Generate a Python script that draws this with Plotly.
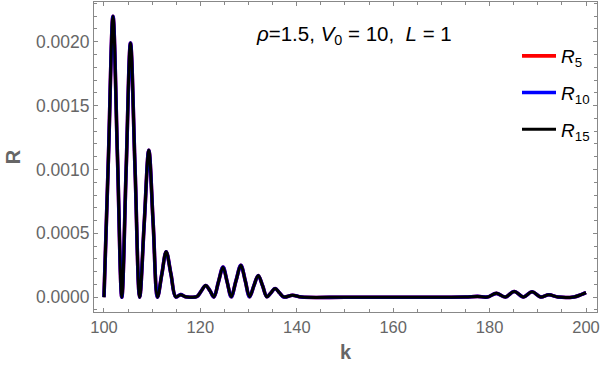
import plotly.graph_objects as go

# k values of key points (peaks, minima, half-heights)
k = [100.0, 100.93, 101.87, 102.8, 103.7, 104.6, 105.5, 106.45, 107.4, 108.35,
     109.3, 110.2, 111.1, 112.0, 112.9, 113.9, 114.9, 115.9, 116.9, 118.0,
     119.3, 120.2, 121.1, 122.0, 122.8, 123.75, 124.7, 125.55, 126.4, 127.4,
     128.4, 129.3, 130.2, 131.1, 132.0, 132.9, 133.8, 134.65, 135.5, 136.4,
     137.3, 139.1, 141.0, 150.0, 160.0, 170.0, 175.0, 177.5, 179.5, 181.4,
     183.3, 185.1, 187.0, 188.8, 190.6, 192.3, 194.2, 197.5, 199.0, 200.0]

R5 = [0.0, 0.00110, 0.00220, 0.00110, 0.0, 0.00100, 0.00199, 0.00100, 0.0, 0.00058,
      0.00115, 0.00058, 0.0, 0.00018, 0.000355, 0.00018, 0.000002, 0.00002, 0.000003, 0.0,
      0.000005, 0.00005, 0.000092, 0.00005, 0.000002, 0.00012, 0.000235, 0.00012, 0.000003, 0.00013,
      0.00025, 0.00013, 0.000003, 0.00009, 0.00017, 0.00009, 0.000003, 0.000035, 0.000068, 0.000035,
      0.000002, 0.000015, 0.000001, 0.0, 0.0, 0.0, 0.000001, 0.000006, 0.000001, 0.00003,
      0.000002, 0.000045, 0.000002, 0.000043, 0.000002, 0.000019, 0.000001, 0.000002, 0.00002, 0.000035]
R10 = list(R5)
R15 = list(R5)

series = [("<i>R</i><sub>5</sub>", R5, "#ff0000", 3.6),
          ("<i>R</i><sub>10</sub>", R10, "#0000ff", 3.6),
          ("<i>R</i><sub>15</sub>", R15, "#000000", 3.0)]

fig = go.Figure()
for i, (name, vals, color, w) in enumerate(series):
    fig.add_trace(go.Scatter(x=k, y=vals, mode="lines", name=name,
                             line=dict(color=color, width=w, shape="spline", smoothing=1.0),
                             legendgroup=str(i)))

gray = "#666666"
FONT = "Liberation Sans, Arial"
axis_common = dict(showline=True, linecolor="#888888", linewidth=1, mirror="allticks",
                   ticks="inside", ticklen=4, tickcolor="#888888", showgrid=False,
                   zeroline=False, ticklabeloverflow="allow")

fig.update_xaxes(range=[97.93, 202.28], tick0=100, dtick=20,
                 tickfont=dict(family=FONT, size=16.5, color=gray),
                 minor=dict(dtick=5, ticks="inside", ticklen=3, tickcolor="#888888"),
                 title=dict(text="<b>k</b>", font=dict(family=FONT, size=20, color=gray), standoff=10),
                 **axis_common)
fig.update_yaxes(range=[-0.000116, 0.002311], tick0=0, dtick=0.0005, tickformat=".4f",
                 tickfont=dict(family=FONT, size=17.5, color=gray),
                 minor=dict(dtick=0.0001, ticks="inside", ticklen=3, tickcolor="#888888"),
                 title=dict(text="<b>R</b>", font=dict(family=FONT, size=20, color=gray), standoff=9),
                 **axis_common)

fig.add_annotation(text="<i>ρ</i>=1.5, <i>V</i><sub>0</sub> = 10,  <i>L</i> = 1",
                   xref="paper", yref="paper", x=(254 - 94) / 503, y=1 - (35 - 2) / 310,
                   xanchor="left", yanchor="middle", showarrow=False,
                   font=dict(family=FONT, size=20.5, color="black"))

fig.update_layout(
    width=600, height=373,
    margin=dict(l=94, r=3, t=2, b=61, autoexpand=False),
    plot_bgcolor="white", paper_bgcolor="white",
    showlegend=True,
    legend=dict(x=(517 - 94) / 503, y=1 - (37 - 2) / 310,
                xanchor="left", yanchor="top", bgcolor="rgba(0,0,0,0)",
                font=dict(family=FONT, size=19, color="black"),
                tracegroupgap=9, itemwidth=34),
)

fig.write_html("out.html", config={"displayModeBar": False},
               post_script="document.body.style.margin='0';document.body.style.overflow='hidden';"
                           "document.documentElement.style.overflow='hidden';")
